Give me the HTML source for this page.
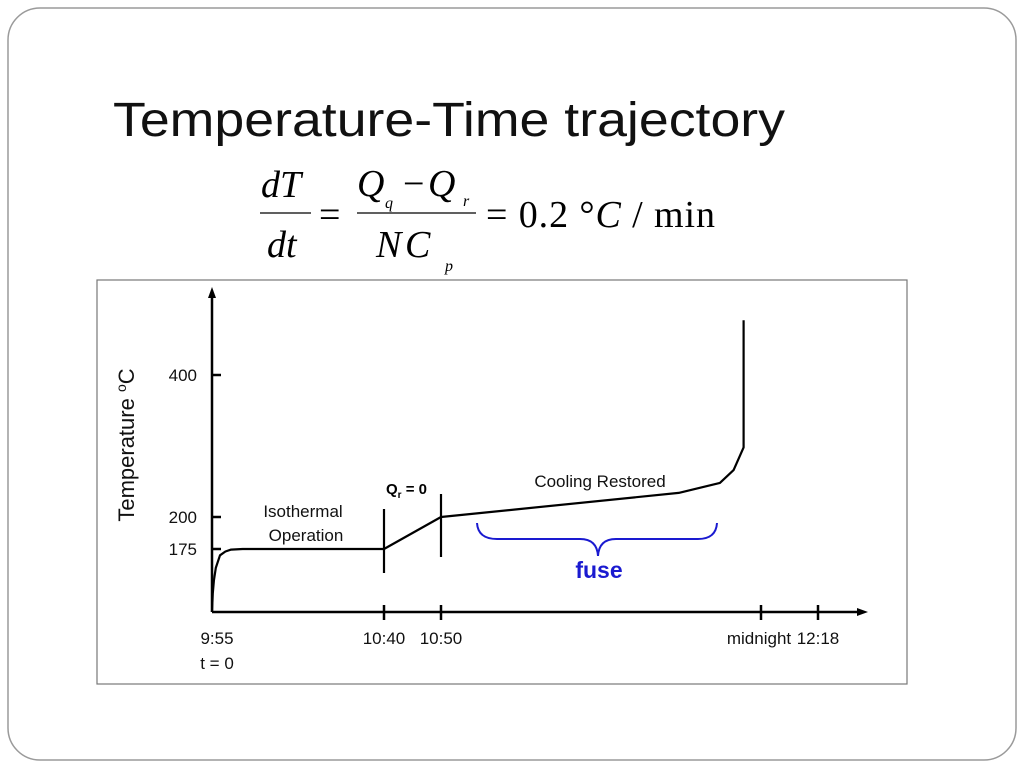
<!DOCTYPE html>
<html><head><meta charset="utf-8"><style>
html,body{margin:0;padding:0;background:#fff;}
body{width:1024px;height:768px;overflow:hidden;position:relative;font-family:"Liberation Sans",sans-serif;}
</style></head><body>
<svg width="1024" height="768" viewBox="0 0 1024 768" xmlns="http://www.w3.org/2000/svg">
<rect x="8" y="8" width="1008" height="752" rx="32" fill="#fff" stroke="#9a9a9a" stroke-width="1.5"/>
<text x="113" y="136" font-family="Liberation Sans, sans-serif" font-size="48" fill="#111" textLength="672" lengthAdjust="spacingAndGlyphs">Temperature-Time trajectory</text>
<g font-family="Liberation Serif, serif" font-size="38" fill="#000">
<text x="261" y="197" font-style="italic">dT</text>
<line x1="260" y1="213" x2="311" y2="213" stroke="#000" stroke-width="1.3"/>
<text x="267" y="257" font-style="italic">dt</text>
<text x="319" y="227">=</text>
<text x="357" y="196" font-style="italic">Q</text>
<text x="385" y="208" font-style="italic" font-size="16">q</text>
<text x="403" y="196">−</text>
<text x="428" y="196" font-style="italic">Q</text>
<text x="463" y="206" font-style="italic" font-size="16">r</text>
<line x1="357" y1="213" x2="476" y2="213" stroke="#000" stroke-width="1.3"/>
<text x="376" y="257" font-style="italic">N</text>
<text x="405" y="257" font-style="italic">C</text>
<text x="445" y="271" font-style="italic" font-size="16">p</text>
<text x="486" y="227" textLength="229" lengthAdjust="spacing">= 0.2 °<tspan font-style="italic">C</tspan> / min</text>
</g>
<rect x="97" y="280" width="810" height="404" fill="#fff" stroke="#777" stroke-width="1.2"/>
<g id="chart"></g>
</svg>
<script>
const xTickTimes=[0,45,55,125,143];
const xTickLabels=["9:55","10:40","10:50","midnight","12:18"];
const yTickVals=[125,175,200,400];
const yTickLabels=["","175","200","400"];
const curveT=[0,0.2,0.5,1,2.1,3.5,5,8,45,55,107,116,119,121.2,121.2];
const curveV=[125,140,150,160,170,173,174.5,175,175,200,234,248,266,298,477];
const NS="http://www.w3.org/2000/svg";
const XPX=[212,384,441,761,818], YPX=[612,549,517,375];
function interp(v,dv,px){
  if(v<=dv[0]) return px[0]+(v-dv[0])*(px[1]-px[0])/(dv[1]-dv[0]);
  for(let i=0;i<dv.length-1;i++){ if(v<=dv[i+1]) return px[i]+(v-dv[i])*(px[i+1]-px[i])/(dv[i+1]-dv[i]); }
  const n=dv.length-1; return px[n]+(v-dv[n])*(px[n]-px[n-1])/(dv[n]-dv[n-1]);
}
const xS=t=>interp(t,xTickTimes,XPX), yS=v=>interp(v,yTickVals,YPX);
const g=document.getElementById('chart');
function mk(tag,attrs,text){const e=document.createElementNS(NS,tag);for(const k in attrs)e.setAttribute(k,attrs[k]);if(text!==undefined)e.textContent=text;g.appendChild(e);return e;}
let e;
e=mk('line',{x1:212,y1:612,x2:212,y2:296,stroke:'#000','stroke-width':2.5});


e=mk('polygon',{points:'212,287 208,298 216,298',fill:'#000'});


e=mk('line',{x1:212,y1:612,x2:858,y2:612,stroke:'#000','stroke-width':2.5});


e=mk('polygon',{points:'868,612 857,608 857,616',fill:'#000'});


xTickTimes.forEach((t,i)=>{const x=xS(t);
  if(i>0){e=mk('line',{x1:x,y1:605,x2:x,y2:620,stroke:'#000','stroke-width':2.5});
  
  }
  e=mk('text',{x:x+(i==0?5:(i==3?-2:0)),y:644,'text-anchor':'middle','font-size':17,fill:'#111'},xTickLabels[i]);
  
  
});
e=mk('text',{x:217,y:669,'text-anchor':'middle','font-size':17,fill:'#111'},'t = 0');


yTickVals.forEach((v,i)=>{if(!yTickLabels[i])return;const y=yS(v);
  e=mk('line',{x1:212,y1:y,x2:221,y2:y,stroke:'#000','stroke-width':2.5});
  
  
  e=mk('text',{x:197,y:y+6,'text-anchor':'end','font-size':17,fill:'#111'},yTickLabels[i]);
  
  
});
e=mk('text',{x:0,y:0,transform:'translate(134,445) rotate(-90)','text-anchor':'middle','font-size':22,fill:'#111'},'');
e.innerHTML='Temperature <tspan baseline-shift="super" font-size="14">o</tspan>C';


const pts=curveT.map((t,i)=>xS(t).toFixed(1)+','+yS(curveV[i]).toFixed(1)).join(' ');
e=mk('polyline',{points:pts,fill:'none',stroke:'#000','stroke-width':2.2,'stroke-linejoin':'round'});


e=mk('line',{x1:384,y1:509,x2:384,y2:573,stroke:'#000','stroke-width':2.2});


e=mk('line',{x1:441,y1:494,x2:441,y2:557,stroke:'#000','stroke-width':2.2});


e=mk('text',{x:303,y:517,'text-anchor':'middle','font-size':17,fill:'#111'},'Isothermal');


e=mk('text',{x:306,y:541,'text-anchor':'middle','font-size':17,fill:'#111'},'Operation');


e=mk('text',{x:386,y:494,'font-size':15,'font-weight':'bold',fill:'#000'},'');
e.innerHTML='Q<tspan dy="4" font-size="10">r</tspan><tspan dy="-4"> = 0</tspan>';


e=mk('text',{x:600,y:487,'text-anchor':'middle','font-size':17,fill:'#111'},'Cooling Restored');


e=mk('path',{d:'M477,523 Q478,539 497,539 L580,539 Q597,539 598,556 Q599,539 616,539 L698,539 Q716,539 717,523',fill:'none',stroke:'#1a1ad0','stroke-width':2});


e=mk('text',{x:599,y:578,'text-anchor':'middle','font-size':23,'font-weight':'bold',fill:'#1a1ad0'},'fuse');


</script>
</body></html>
